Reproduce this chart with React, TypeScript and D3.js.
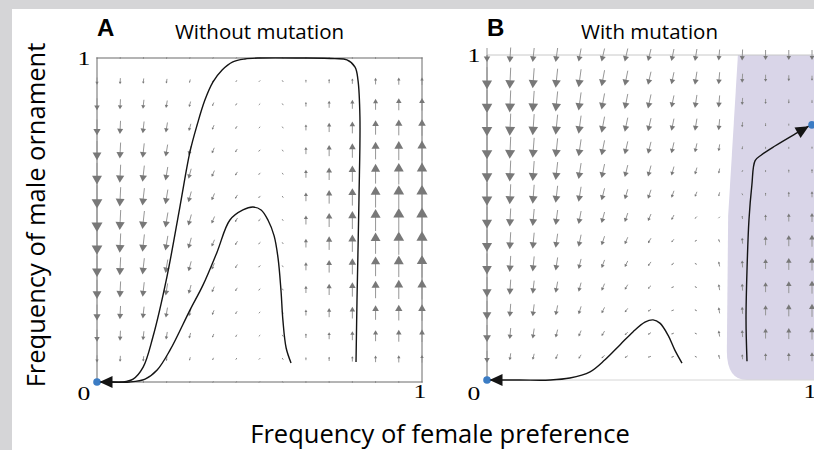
import * as d3 from 'd3';

const W = 814;
const H = 450;

// 15 x 15 grid of the vector field, from 0 to 1 on both axes
const gridSteps = d3.range(15).map(i => i / 14);

// Panel A (without mutation): vertical arrow length in px per column at mid height (+ = up)
const colPeakA = [-24, -20, -18, -15, -11, -7, -4, -2, 1.5, 9, 14, 18, 22, 24, 25];
// horizontal drift per column in px (- = left)
const colDriftA = [0, -1, -2, -2.5, -3, -3, -2.5, -2, -1, 0, 0, 0, 0, 0, 0];
// strength of the field on each row, top (y = 1) to bottom (y = 0)
const rowWeightA = [0.05, 0.3, 0.5, 0.66, 0.8, 0.9, 0.97, 1, 0.97, 0.9, 0.8, 0.66, 0.5, 0.3, 0.05];

// Panel B (with mutation): vertical arrow length in px, rows top -> bottom, columns left -> right
const fieldB = [
  [-14, -15, -14, -14, -13, -13, -13, -12, -12, -12, -11, -11, -10, -10, -10],
  [-22, -21, -20, -19, -18, -16, -15, -13, -12, -13, -12, -9, -7, -6, -5],
  [-23, -22, -21, -20, -18, -16, -15, -14, -12, -13, -12, -7, -5, -4, -3],
  [-23, -22, -21, -20, -18, -16, -14, -13, -12, -12, -11, -5, -3, -1, 0],
  [-23, -22, -20, -19, -17, -15, -13, -12, -11, -9, -7, -3, -1, 1, 2],
  [-23, -21, -20, -18, -16, -14, -12, -11, -9, -7, -5, -1, 1, 3, 4],
  [-23, -20, -19, -17, -15, -12, -10, -9, -7, -5, -4, 1, 3, 5, 6],
  [-22, -18, -17, -15, -13, -11, -9, -7, -5, -2, -1, 3, 6, 8, 9],
  [-22, -17, -16, -14, -12, -9, -7, -5, -3, -1, 3, 6, 9, 11, 12],
  [-21, -16, -15, -13, -10, -8, -6, -4, -2, 1, 5, 7, 10, 12, 13],
  [-20, -15, -13, -11, -9, -7, -5, -3, -1, 1, 6, 7, 10, 12, 13],
  [-19, -13, -12, -10, -8, -6, -4, -2, -1, 1, 6, 7, 10, 12, 13],
  [-17, -11, -10, -8, -6, -5, -3, -2, -1, 1, 6, 7, 10, 11, 12],
  [-12, -7, -6, -5, -4, -3, -2, -1, -1, 1, 4, 5, 7, 8, 9],
  [0, 0, 0, 0, 0, 0, 0, 0, 0, 0, 0, 0, 0, 0, 0],
];
const colDriftB = [0, -1, -1.5, -2, -2.5, -3, -3, -3, -2.5, -2, -1, -0.5, 0, 0, 0];

// trajectories, [female preference, male ornament]
const outerA: [number, number][] = [
  [0.797, 0.062], [0.8, 0.253], [0.806, 0.562], [0.809, 0.818], [0.803, 0.932],
  [0.794, 0.972], [0.769, 0.994], [0.732, 0.998], [0.625, 1], [0.502, 1],
  [0.455, 0.997], [0.418, 0.988], [0.385, 0.963], [0.357, 0.926], [0.332, 0.87],
  [0.308, 0.793], [0.286, 0.71], [0.255, 0.54], [0.215, 0.324], [0.172, 0.139],
  [0.142, 0.046], [0.111, 0.009], [0.077, 0], [0.03, 0], [0, 0],
];
const innerA: [number, number][] = [
  [0.597, 0.059], [0.582, 0.105], [0.572, 0.191], [0.566, 0.284], [0.557, 0.383],
  [0.545, 0.451], [0.526, 0.5], [0.505, 0.531], [0.48, 0.54], [0.449, 0.531],
  [0.409, 0.5], [0.369, 0.4], [0.326, 0.299], [0.286, 0.222], [0.225, 0.099],
  [0.185, 0.037], [0.148, 0.009], [0.1, 0], [0.05, 0], [0, 0],
];
const leftB: [number, number][] = [
  [0.6, 0.052], [0.578, 0.092], [0.557, 0.138], [0.532, 0.175], [0.511, 0.185],
  [0.486, 0.178], [0.449, 0.148], [0.409, 0.108], [0.363, 0.062], [0.317, 0.025],
  [0.255, 0.006], [0.194, 0], [0.1, 0], [0, 0],
];
const rightB: [number, number][] = [
  [0.8, 0.058], [0.797, 0.185], [0.8, 0.338], [0.806, 0.492], [0.815, 0.6],
  [0.825, 0.675], [0.845, 0.693], [0.886, 0.72], [0.948, 0.757], [0.99, 0.781],
];
// basin of the polymorphic equilibrium (shaded)
const basinB: [number, number][] = [[0.772, 1], [0.742, 0.505], [0.738, 0.09]];
const basinCorner: [number, number][] = [[0.738, 0], [0.8, 0]];

const stableA: [number, number][] = [[0, 0]];
const stableB: [number, number][] = [[0, 0], [1, 0.785]];

const xA = d3.scaleLinear().domain([0, 1]).range([97, 422]);
const yA = d3.scaleLinear().domain([0, 1]).range([382, 58]);
const xB = d3.scaleLinear().domain([0, 1]).range([487, 812]);
const yB = d3.scaleLinear().domain([0, 1]).range([380, 55]);

function fieldArrow(cx: number, cy: number, dx: number, dy: number, key: string) {
  let vx = dx;
  let vy = -dy;
  let L = Math.hypot(vx, vy);
  if (L < 2) {
    if (L === 0) { vx = 0; vy = 1; L = 1; }
    const s = 2 / L;
    return (
      <line key={key} x1={cx - vx * s / 2} y1={cy - vy * s / 2} x2={cx + vx * s / 2} y2={cy + vy * s / 2}
        stroke="#8c8c8c" strokeWidth={1} />
    );
  }
  const ux = vx / L, uy = vy / L;
  const x0 = cx - vx / 2, y0 = cy - vy / 2;
  const x1 = cx + vx / 2, y1 = cy + vy / 2;
  const hl = 0.4 * L, hw = 0.23 * L;
  const bx = x1 - ux * hl, by = y1 - uy * hl;
  const px = -uy, py = ux;
  return (
    <g key={key}>
      <line x1={x0} y1={y0} x2={bx + ux} y2={by + uy} stroke="#969696" strokeWidth={1} />
      <path d={`M${x1},${y1}L${bx + px * hw},${by + py * hw}L${bx - px * hw},${by - py * hw}Z`} fill="#787878" />
    </g>
  );
}

function headAt(tx: number, ty: number, fx: number, fy: number, len: number, half: number) {
  const L = Math.hypot(tx - fx, ty - fy);
  const ux = (tx - fx) / L, uy = (ty - fy) / L;
  const bx = tx - ux * len, by = ty - uy * len;
  return `M${tx},${ty}L${bx - uy * half},${by + ux * half}L${bx + uy * half},${by - ux * half}Z`;
}

export default function App() {
  const curve = (sx: d3.ScaleLinear<number, number>, sy: d3.ScaleLinear<number, number>) =>
    d3.line<[number, number]>().x(d => sx(d[0])).y(d => sy(d[1])).curve(d3.curveCatmullRom.alpha(0.5));

  const arrowsA: JSX.Element[] = [];
  gridSteps.forEach((gy, j) => {
    gridSteps.forEach((gx, i) => {
      const w = rowWeightA[14 - Math.round(gy * 14)];
      arrowsA.push(fieldArrow(xA(gx), yA(gy), colDriftA[i] * w, colPeakA[i] * w, `a${i}-${j}`));
    });
  });
  const arrowsB: JSX.Element[] = [];
  gridSteps.forEach((gy, j) => {
    const row = fieldB[14 - Math.round(gy * 14)];
    gridSteps.forEach((gx, i) => {
      if (row[i] === 0 && gy === 0) return;
      arrowsB.push(fieldArrow(xB(gx), yB(gy), colDriftB[i], row[i], `b${i}-${j}`));
    });
  });

  const lb = basinB.map(d => [xB(d[0]), yB(d[1])]);
  const basinPath =
    `M${lb[0][0]},${lb[0][1]}L${lb[1][0]},${lb[1][1]}L${lb[2][0]},${lb[2][1]}` +
    `Q${xB(basinCorner[0][0])},${yB(basinCorner[0][1])} ${xB(basinCorner[1][0])},${yB(basinCorner[1][1])}` +
    `L${W},${yB(0)}L${W},${yB(1)}Z`;

  const lastB = rightB[rightB.length - 1];
  const prevB = rightB[rightB.length - 3];

  const labelFont = '"Open Sans", sans-serif';
  const numFont = '"Liberation Serif", serif';

  return (
    <svg width={W} height={H} style={{ position: 'fixed', left: 0, top: 0 }}>
      <rect width={W} height={H} fill="#d5d5d7" />
      <rect x={12} y={9} width={W - 12} height={H - 9} fill="#ffffff" />

      {/* panel B basin */}
      <path d={basinPath} fill="#d9d5e8" />

      {/* panel frames */}
      <rect x={xA(0)} y={yA(1)} width={xA(1) - xA(0)} height={yA(0) - yA(1)} fill="none" stroke="#6a6a6a" strokeWidth={1} />
      <line x1={xB(0)} x2={W} y1={yB(1)} y2={yB(1)} stroke="#c8c8c8" strokeWidth={1} />
      <line x1={xB(0)} x2={W} y1={yB(0)} y2={yB(0)} stroke="#d6d6d6" strokeWidth={1} />
      <line x1={xB(0)} x2={xB(0)} y1={yB(1)} y2={yB(0)} stroke="#6a6a6a" strokeWidth={1} />

      {arrowsA}
      {arrowsB}

      {/* trajectories */}
      <g fill="none" stroke="#141414" strokeWidth={1.4}>
        <path d={curve(xA, yA)(outerA) ?? ''} />
        <path d={curve(xA, yA)(innerA) ?? ''} />
        <path d={curve(xB, yB)(leftB) ?? ''} />
        <path d={curve(xB, yB)(rightB) ?? ''} />
      </g>

      {stableA.map((d, k) => <circle key={`sa${k}`} cx={xA(d[0])} cy={yA(d[1])} r={3.8} fill="#3b7cc4" />)}
      {stableB.map((d, k) => <circle key={`sb${k}`} cx={xB(d[0])} cy={yB(d[1])} r={3.8} fill="#3b7cc4" />)}

      <path d={headAt(xA(0) + 2.5, yA(0), xA(0.1), yA(0), 13, 6)} fill="#141414" />
      <path d={headAt(xB(0) + 2.5, yB(0), xB(0.1), yB(0), 13, 6)} fill="#141414" />
      <path d={headAt(xB(lastB[0]), yB(lastB[1]), xB(prevB[0]), yB(prevB[1]), 13, 6)} fill="#141414" />

      {/* panel letters and titles */}
      <text x={97} y={36} fontFamily='"Liberation Sans", Arial, sans-serif' fontWeight="bold" fontSize={24}>A</text>
      <text x={487} y={36} fontFamily='"Liberation Sans", Arial, sans-serif' fontWeight="bold" fontSize={24}>B</text>
      <text x={(xA(0) + xA(1)) / 2} y={39} textAnchor="middle" fontFamily={labelFont} fontSize={20.5}>Without mutation</text>
      <text x={(xB(0) + xB(1)) / 2} y={39} textAnchor="middle" fontFamily={labelFont} fontSize={20.5}>With mutation</text>

      {/* tick labels */}
      <g fontFamily={numFont} fontSize={19}>
        <text transform={`translate(${xA(0) - 13},${yA(1) + 7}) scale(1.35,1)`} textAnchor="middle">1</text>
        <text transform={`translate(${xA(0) - 13},${yA(0) + 18}) scale(1.35,1)`} textAnchor="middle">0</text>
        <text transform={`translate(${xA(1) - 2},${yA(0) + 16}) scale(1.35,1)`} textAnchor="middle">1</text>
        <text transform={`translate(${xB(0) - 13},${yB(1) + 7}) scale(1.35,1)`} textAnchor="middle">1</text>
        <text transform={`translate(${xB(0) - 13},${yB(0) + 20}) scale(1.35,1)`} textAnchor="middle">0</text>
        <text transform={`translate(${xB(1) - 2},${yB(0) + 18}) scale(1.35,1)`} textAnchor="middle">1</text>
      </g>

      {/* axis titles */}
      <text x={440} y={443} textAnchor="middle" fontFamily={labelFont} fontSize={25.5}>Frequency of female preference</text>
      <text transform="translate(45,215) rotate(-90)" textAnchor="middle" fontFamily={labelFont} fontSize={25.5}>Frequency of male ornament</text>
    </svg>
  );
}
